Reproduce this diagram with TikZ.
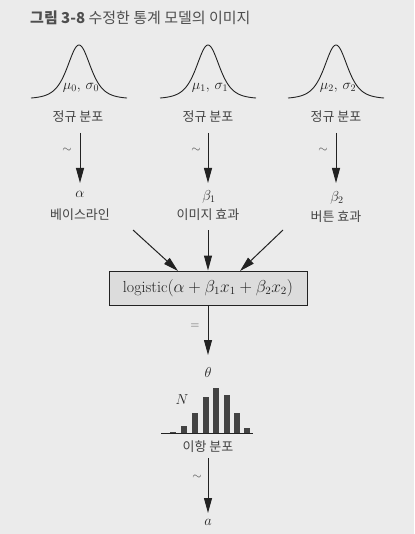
\documentclass[tikz,border=0pt]{standalone}
\usepackage{fontspec}
\usetikzlibrary{arrows.meta}
\newfontfamily\kr{Noto Sans CJK KR}
\definecolor{bg}{HTML}{EBEBEB}
\definecolor{ink}{HTML}{222222}
\definecolor{boxfill}{HTML}{DCDCDC}
\begin{document}
\begin{tikzpicture}[x=1pt,y=-1pt,
  every node/.style={text=ink, inner sep=0pt},
  lbl/.style={font=\kr\fontsize{13}{14}\selectfont, text=ink!85},
  mlbl/.style={font=\fontsize{14}{14}\selectfont},
  plbl/.style={font=\fontsize{14}{14}\selectfont},
  sym/.style={font=\fontsize{13}{13}\selectfont, text=ink!80},
  arr/.style={draw=ink, line width=1pt, -{Triangle[length=15pt,width=8pt]}},
  curve/.style={draw=ink, line width=0.9pt},
  bar/.style={fill=ink!85, draw=none},
  bell/.pic={\draw[curve] plot[domain=-48:48, samples=100, smooth] (\x, {-54*exp(-2.5*ln(1+\x*\x/581))});}
]
\fill[bg] (0,0) rectangle (414,534);
\useasboundingbox (0,0) rectangle (414,534);

% title
\node[anchor=west, font=\kr\fontsize{15}{16}\selectfont, text=ink!80] (title) at (30,18) {\textbf{그림 3-8} 수정한 통계 모델의 이미지};

% bell curves
\pic at (79,99) {bell};
\pic at (208,99) {bell};
\pic at (336,99) {bell};
\node[plbl] (p0) at (81,88) {$\mu_0,\,\sigma_0$};
\node[plbl] (p1) at (210,88) {$\mu_1,\,\sigma_1$};
\node[plbl] (p2) at (338,88) {$\mu_2,\,\sigma_2$};

\node[lbl] (n0) at (78,117) {정규 분포};
\node[lbl] (n1) at (208,117) {정규 분포};
\node[lbl] (n2) at (336,117) {정규 분포};

% coefficients
\node[mlbl] (a0) at (80,194) {$\alpha$};
\node[mlbl] (b1) at (209,197) {$\beta_1$};
\node[mlbl] (b2) at (337,198) {$\beta_2$};
\node[lbl] (l0) at (80,215) {베이스라인};
\node[lbl] (l1) at (208,215) {이미지 효과};
\node[lbl] (l2) at (336,217) {버튼 효과};

\coordinate (s0) at (80,133);
\coordinate (s1) at (208,133);
\coordinate (s2) at (336,133);
\draw[arr] (s0) -- (80,183);
\draw[arr] (s1) -- (208,183);
\draw[arr] (s2) -- (336,183);
\node[sym] (t0) at (67,150) {$\sim$};
\node[sym] (t1) at (196,150) {$\sim$};
\node[sym] (t2) at (323,150) {$\sim$};

% logistic box
\node[draw=ink, line width=1pt, fill=boxfill, minimum width=198pt, minimum height=34pt,
      font=\fontsize{16}{16}\selectfont] (box) at (208,288)
  {logistic$(\alpha+\beta_1x_1+\beta_2x_2)$};

\coordinate (c0) at (133,230);
\coordinate (c1) at (208,230);
\coordinate (c2) at (283,230);
\draw[arr] (c0) -- (178,271);
\draw[arr] (c1) -- (box.north);
\draw[arr] (c2) -- (240,271);

% theta
\node[mlbl] (theta) at (208,372) {$\theta$};
\draw[arr] (box.south) -- (208,355);
\node[sym] (eq) at (195,326) {$=$};

% binomial histogram
\draw[ink, line width=1pt] (161,433) -- (253,433);
\foreach \xx/\yy in {173/432, 184/426, 195/413, 206/397, 216/388, 227/395, 237/413, 247/428}
  \fill[bar] (\xx-2.6,433) rectangle (\xx+2.6,\yy);
\node[mlbl] (N) at (182,400) {$N$};
\node[lbl] (bin) at (208,447) {이항 분포};

% a
\coordinate (s3) at (208,458);
\draw[arr] (s3) -- (208,513);
\node[sym] (t3) at (197,477) {$\sim$};
\node[mlbl] (aa) at (208,522) {$a$};
\end{tikzpicture}
\end{document}
